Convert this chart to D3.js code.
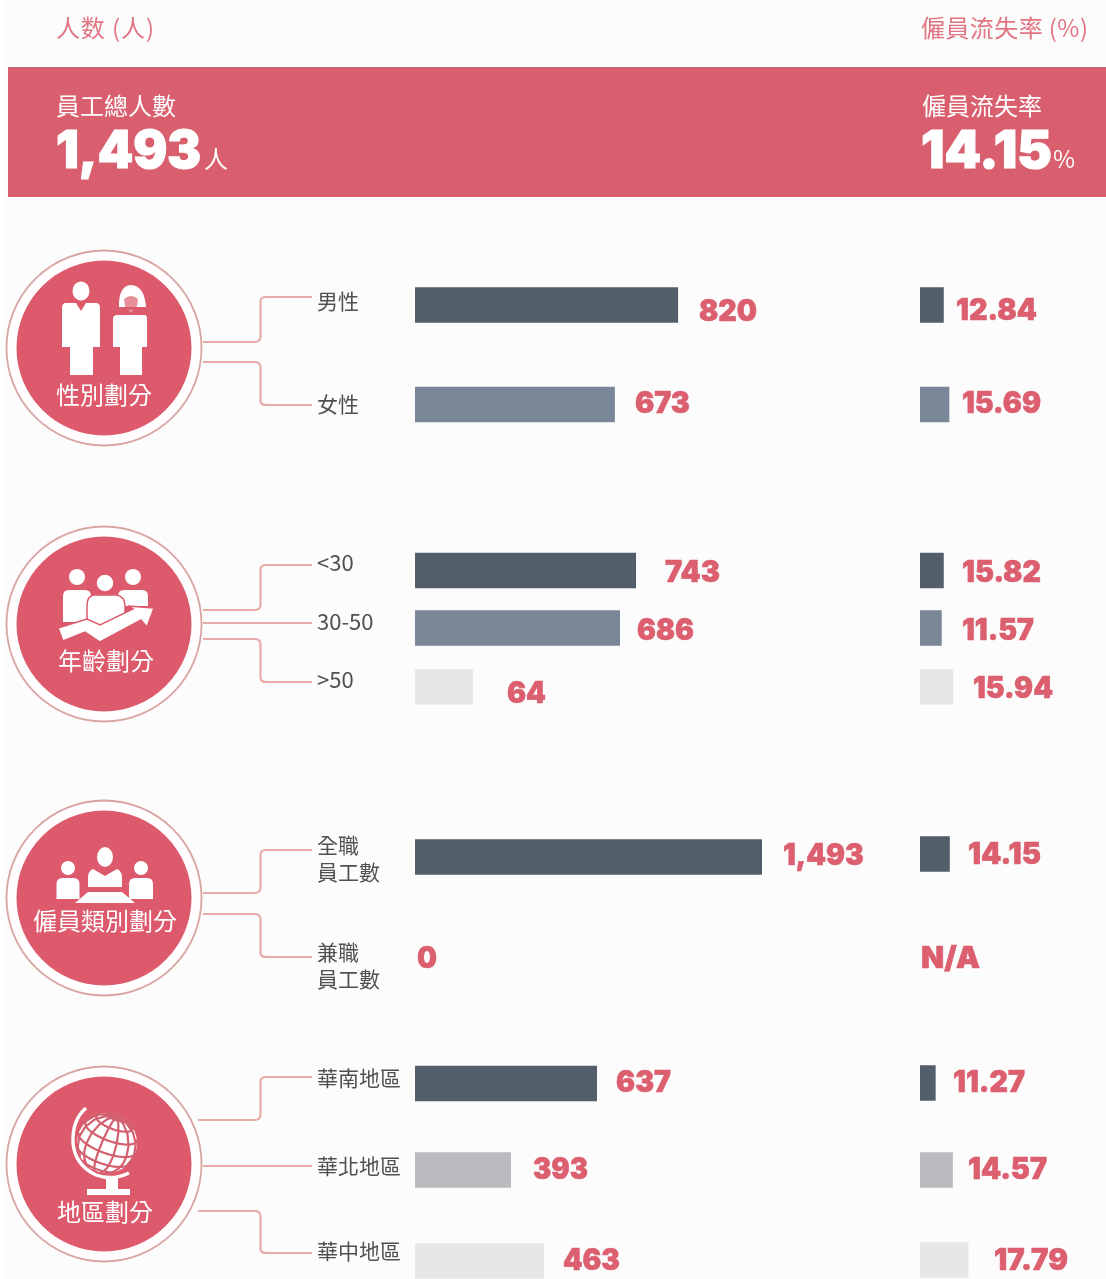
<!DOCTYPE html>
<html lang="zh-Hant">
<head>
<meta charset="utf-8">
<script src="https://cdn.jsdelivr.net/npm/d3@7"></script>
<style>
html,body{margin:0;padding:0;background:#fff;overflow:hidden}
svg{display:block;filter:blur(0.45px)}
text{font-family:"Noto Sans CJK TC","Noto Sans",sans-serif;font-weight:400}
.num{font-family:Inter,Roboto,sans-serif;font-weight:900}
</style>
</head>
<body>
<div id="chart"></div>
<script>
// ---------- data ----------
const groupTitles = ["性別劃分", "年齡劃分", "僱員類別劃分", "地區劃分"];
const categories = ["男性", "女性", "<30", "30-50", ">50", "全職\n員工數", "兼職\n員工數", "華南地區", "華北地區", "華中地區"];
const headcount = [820, 673, 743, 686, 64, 1493, 0, 637, 393, 463];
const turnover = [12.84, 15.69, 15.82, 11.57, 15.94, 14.15, null, 11.27, 14.57, 17.79];
// the bars in the source are not proportional to their printed labels,
// so the length each bar actually shows is read separately (in the same units)
const headcountAsDrawn = [1132, 860, 951, 882, 250, 1493, 0, 783, 413, 555];
const turnoverAsDrawn = [8.71, 10.75, 8.71, 7.97, 12.2, 10.93, 0, 5.74, 12.05, 17.79];
const totalHeadcount = 1493;
const totalTurnover = 14.15;
const shades = ["dark", "mid", "dark", "mid", "pale", "dark", "dark", "dark", "grey", "pale"];

// ---------- layout ----------
const W = 1106, H = 1279;
const RED = "#dc5f6f", DISC = "#dc5a6b", BAND = "#d95f6e", HEAD = "#e17582", INK = "#505050", LINE = "#e8aca8";
const shadeColour = d3.scaleOrdinal(["dark", "mid", "grey", "pale"], ["#535e6b", "#7a8798", "#b9bbbe", "#e7e7e6"]);
const rowCentre = d3.scaleOrdinal(categories, [305, 404.5, 570.5, 628, 687, 857, 960, 1083.5, 1170, 1261]);
const rateCentre = d3.scaleOrdinal(categories, [305, 404.5, 570.5, 628, 687, 854, 960, 1083, 1170, 1260]);
const x = d3.scaleLinear().domain([0, totalHeadcount]).range([415, 762]);
const xRate = d3.scaleLinear().domain([0, 17.79]).range([920, 968.5]);
const barH = 35.5;

// where the printed figures sit: start, end, baseline
const countLabelPos = d3.scaleOrdinal(categories, [[699,757,321],[635,690,413],[665,720,582],[637,694,640],[507,546,703],[783,864,865],[417,437,968],[616,671,1092],[533,588,1179],[563,620,1270]]);
const rateLabelPos = d3.scaleOrdinal(categories, [[956,1037,320],[962,1041,413],[962,1041,582],[962,1034,640],[973,1053,698],[968,1041,864],[921,980,968],[953,1025,1092],[968,1047,1179],[994,1068,1270]]);
const catBaseline = d3.scaleOrdinal(categories, [[309],[412],[571],[630],[688],[853,880],[960,987],[1086],[1174],[1259]]);
const circleCentre = d3.scaleOrdinal(groupTitles, [[104,348],[104,624],[104,898],[104,1164]]);
const titlePos = d3.scaleOrdinal(groupTitles, [[56,404],[58,670],[33,930],[57,1221]]);
const connectors = [
  [[203,342,297],[203,362,405]],
  [[203,610,565],[203,623,623],[203,639,682]],
  [[203,893,850],[203,914,957]],
  [[198,1120,1077],[203,1166,1166],[198,1211,1253]]
];

const svg = d3.select("#chart").append("svg").attr("width", W).attr("height", H).attr("viewBox", [0,0,W,H]);
svg.append("rect").attr("width", W).attr("height", H).attr("fill", "#ffffff");
svg.append("rect").attr("x", 4).attr("width", W-4).attr("height", H).attr("fill", "#fcfcfd");

const cjk = (t, px, yy, size, fill) => svg.append("text").attr("x", px).attr("y", yy)
  .attr("font-size", size).attr("fill", fill).text(t);
const num = (t, x0, x1, yy, size, fill, bold) => svg.append("text").attr("class", "num").attr("x", x0).attr("y", yy)
  .attr("font-size", size).attr("fill", fill).attr("stroke", fill).attr("stroke-width", bold)
  .attr("textLength", x1 - x0).attr("lengthAdjust", "spacingAndGlyphs").text(t);

// ---------- headers ----------
cjk("人数 (人)", 56, 37, 24, HEAD).attr("textLength", 98).attr("lengthAdjust", "spacing");
cjk("僱員流失率 (%)", 921, 37, 24, HEAD).attr("textLength", 167).attr("lengthAdjust", "spacing");
svg.append("rect").attr("x", 8).attr("y", 67).attr("width", W-8).attr("height", 130).attr("fill", BAND);
svg.append("rect").attr("x", 8).attr("y", 67).attr("width", W-8).attr("height", 1.5).attr("fill", "#c2636e");
svg.append("rect").attr("x", 8).attr("y", 190).attr("width", W-8).attr("height", 5).attr("fill", "#d4606c");
cjk("員工總人數", 56, 115, 24, "#fff").attr("font-weight", 300);
cjk("僱員流失率", 922, 115, 24, "#fff").attr("font-weight", 300);
num(d3.format(",")(totalHeadcount), 56, 201, 168, 52, "#fff", 1.2);
cjk("人", 204, 168, 24, "#fff").attr("font-weight", 300);
num(totalTurnover.toFixed(2), 921, 1052, 168, 52, "#fff", 1.2);
cjk("%", 1053, 168, 24, "#fff").attr("font-family", "Noto Sans").attr("font-weight", 300);

// ---------- connectors ----------
const elbow = ([x0, y0, y1]) => {
  if (y0 === y1) return `M${x0},${y0}H312`;
  const s = y1 < y0 ? -1 : 1;
  return `M${x0},${y0}H255Q260,${y0} 260.5,${y0 + s*5}V${y1 - s*4}Q261,${y1} 266,${y1}H312`;
};
connectors.flat().forEach(c => svg.append("path").attr("d", elbow(c)).attr("fill", "none").attr("stroke", LINE).attr("stroke-width", 2.2));

// ---------- badges ----------
const badge = svg.selectAll("g.badge").data(groupTitles).join("g").attr("class", "badge");
badge.append("circle").attr("cx", d => circleCentre(d)[0]).attr("cy", d => circleCentre(d)[1]).attr("r", 97.5)
  .attr("fill", "#fffdfd").attr("stroke", "#d9a5a3").attr("stroke-width", 1.8);
badge.append("circle").attr("cx", d => circleCentre(d)[0]).attr("cy", d => circleCentre(d)[1]).attr("r", 87.5).attr("fill", DISC);
badge.append("text").attr("x", d => titlePos(d)[0]).attr("y", d => titlePos(d)[1])
  .attr("font-size", 24).attr("font-weight", 300).attr("fill", "#fff").text(d => d);

// ---------- icons (decoration) ----------
const icon = svg.append("g").attr("fill", "#fff");
const person = (cx, hy, hr, top, bot, w) => {
  icon.append("circle").attr("cx", cx).attr("cy", hy).attr("r", hr);
  icon.append("path").attr("d", `M${cx-w},${bot}V${top+6}Q${cx-w},${top} ${cx-w+6},${top}H${cx+w-6}Q${cx+w},${top} ${cx+w},${top+6}V${bot}Z`);
};
// gender
icon.append("ellipse").attr("cx", 81).attr("cy", 291).attr("rx", 8.5).attr("ry", 9.5);
icon.append("path").attr("d", "M66,303H96Q100,303 100,308V347H93V375H70V347H62V308Q62,303 66,303Z");
icon.append("path").attr("d", "M76,303L81,311L86,303Z").attr("fill", DISC);
icon.append("path").attr("d", "M119,308Q118,286 131,285Q145,286 146,308Z");
icon.append("path").attr("d", "M124,299Q131,293 138,299L137,306L131,313L125,306Z").attr("fill", "#e88f9a");
icon.append("rect").attr("x", 119).attr("y", 307).attr("width", 27).attr("height", 2.5).attr("fill", DISC);
icon.append("path").attr("d", "M117,315H145Q147,315 147,319V347H142V375H120V347H113V319Q113,315 117,315Z");
// age
person(77, 577, 8, 590, 622, 14);
person(133, 577, 8, 590, 606, 15);
icon.append("circle").attr("cx", 105).attr("cy", 583).attr("r", 9).attr("stroke", DISC).attr("stroke-width", 1.5);
icon.append("path").attr("d", "M94,595H116Q125,596 125,606V623L106,632L87,622V606Q87,596 94,595Z").attr("stroke", DISC).attr("stroke-width", 1.5);
icon.append("path").attr("d", "M58,628L87,619L100,625L133,609L128,606L154,608L147,627L141,620L100,642L85,632L63,641Z").attr("stroke", DISC).attr("stroke-width", 1.5);
// employee type
icon.append("ellipse").attr("cx", 105).attr("cy", 857).attr("rx", 8).attr("ry", 10);
icon.append("path").attr("d", "M93,869L105,876L117,869Q122,871 122,878V887H88V878Q88,871 93,869Z");
person(68, 868, 7, 878, 899, 11.5);
person(141, 868, 7, 878, 899, 12);
icon.append("path").attr("d", "M75,903L88,892H122L135,903Z");
// globe, drawn with the library's projection
const proj = d3.geoOrthographic().scale(30).translate([107, 1143]).rotate([20, -20, -20]).clipAngle(90);
const gp = d3.geoPath(proj);
icon.append("circle").attr("cx", 107).attr("cy", 1143).attr("r", 30);
icon.append("path").datum(d3.geoGraticule().step([30, 25])()).attr("d", gp).attr("fill", "none").attr("stroke", "#d2606e").attr("stroke-width", 2.2);
icon.append("path").attr("d", "M86,1108Q72,1120 73,1143Q75,1165 96,1175Q112,1181 129,1173").attr("fill", "none").attr("stroke", "#fff").attr("stroke-width", 3.4);
icon.append("path").attr("d", "M106,1177H118V1189H130V1195H87V1189H106Z");

// ---------- category labels (one text element per label, wrapped lines as tspans) ----------
categories.forEach(c => {
  const lines = c.split("\n");
  const t = svg.append("text").attr("font-size", /^[<>0-9-]/.test(c) ? 22 : 21).attr("fill", INK);
  t.selectAll("tspan").data(lines).join("tspan")
    .attr("x", 317).attr("y", (d, i) => catBaseline(c)[i]).text(d => d);
});

// ---------- bars ----------
const rows = categories.map((c, i) => ({c, n: headcount[i], r: turnover[i], nd: headcountAsDrawn[i], rd: turnoverAsDrawn[i], s: shades[i]}));
svg.append("g").selectAll("rect").data(rows.filter(d => d.nd > 0)).join("rect")
  .attr("x", x(0)).attr("y", d => rowCentre(d.c) - barH/2)
  .attr("width", d => x(d.nd) - x(0)).attr("height", barH)
  .attr("fill", d => shadeColour(d.s));
svg.append("g").selectAll("rect").data(rows.filter(d => d.rd > 0)).join("rect")
  .attr("x", xRate(0)).attr("y", d => rateCentre(d.c) - barH/2)
  .attr("width", d => xRate(d.rd) - xRate(0)).attr("height", barH)
  .attr("fill", d => shadeColour(d.s));

// ---------- figures ----------
rows.forEach(d => {
  const [a, b, y0] = countLabelPos(d.c);
  num(d3.format(",")(d.n), a, b, y0, 30, RED, 0.6);
  const [e, f, y1] = rateLabelPos(d.c);
  num(d.r === null ? "N/A" : d.r.toFixed(2), e, f, y1, 30, RED, 0.6);
});
</script>
</body>
</html>
